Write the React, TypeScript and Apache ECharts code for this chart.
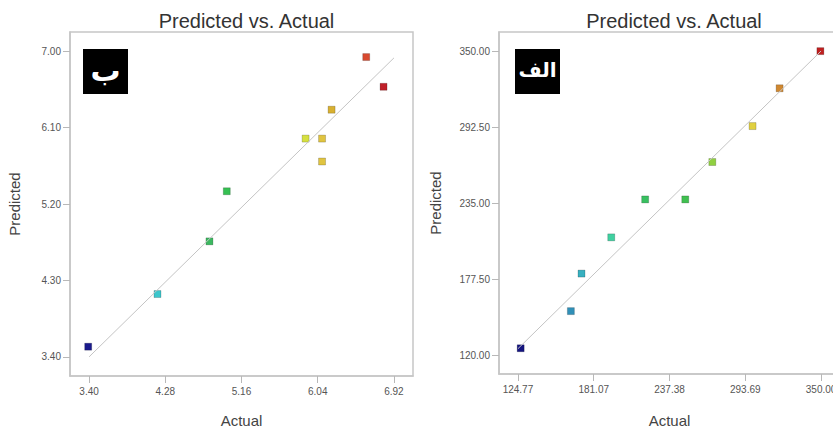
import React, { useEffect, useRef } from "react";
import * as echarts from "echarts";

// Panel "ب" (left)
const actualB = [3.39, 4.19, 4.79, 4.99, 5.9, 6.09, 6.09, 6.2, 6.6, 6.8];
const predictedB = [3.52, 4.14, 4.76, 5.35, 5.97, 5.97, 5.7, 6.31, 6.93, 6.58];
const xTicksB = [3.4, 4.28, 5.16, 6.04, 6.92];
const yTicksB = [3.4, 4.3, 5.2, 6.1, 7.0];
const lineB = [3.4, 6.92];

// Panel "الف" (right)
const actualA = [126.8, 164.1, 172.0, 194.1, 219.3, 249.1, 269.2, 299.1, 319.2, 349.5];
const predictedA = [125.1, 153.2, 181.6, 209.0, 237.7, 237.7, 266.0, 293.2, 321.8, 349.9];
const xTicksA = [124.77, 181.07, 237.38, 293.69, 350.0];
const yTicksA = [120.0, 177.5, 235.0, 292.5, 350.0];
const lineA = [124.77, 350.0];

const colorsB = ["#1a1a8c", "#3cc6cc", "#3cb860", "#36c052", "#d6e040", "#e0c440", "#e0c440", "#d8b030", "#d84a30", "#c0202a"];
const colorsA = ["#141480", "#3090b8", "#38b0c0", "#40d0a0", "#38c060", "#40c050", "#90d040", "#e0d040", "#d08830", "#c02020"];

const TITLE = "Predicted vs. Actual";
const FONT = "'Liberation Sans', Arial, sans-serif";
const BORDER = "#c6c6c6";

function range(ticks: number[]) {
  const step = ticks[1] - ticks[0];
  return { min: ticks[0] - step / 4, max: ticks[ticks.length - 1] + step / 4 };
}

export default function App() {
  const ref = useRef<HTMLDivElement>(null);
  useEffect(() => {
    if (!ref.current) return;
    const chart = echarts.init(ref.current, null, { renderer: "svg" });
    const grids = [
      { left: 70, top: 32, width: 343, height: 344 },
      { left: 499, top: 32, width: 341, height: 342 },
    ];
    const xT = [xTicksB, xTicksA];
    const yT = [yTicksB, yTicksA];
    const mkX = (i: number, gap: number) => {
      const r = range(xT[i]);
      return {
        type: "value",
        gridIndex: i,
        min: r.min,
        max: r.max,
        name: "Actual",
        nameLocation: "middle",
        nameGap: gap,
        nameTextStyle: { color: "#444", fontSize: 15, fontFamily: FONT },
        splitLine: { show: false },
        axisLine: { show: true, lineStyle: { color: BORDER, width: 1.5 } },
        axisTick: { show: true, length: 7, lineStyle: { color: "#b8b8b8" }, customValues: xT[i] },
        axisLabel: {
          color: "#555",
          fontSize: 10,
          fontFamily: FONT,
          margin: 10,
          customValues: xT[i],
          formatter: (v: number) => v.toFixed(2),
        },
      };
    };
    const mkY = (i: number, gap: number) => {
      const r = range(yT[i]);
      return {
        type: "value",
        gridIndex: i,
        min: r.min,
        max: r.max,
        name: "Predicted",
        nameLocation: "middle",
        nameGap: gap,
        nameTextStyle: { color: "#444", fontSize: 15, fontFamily: FONT },
        splitLine: { show: false },
        axisLine: { show: true, lineStyle: { color: BORDER, width: 1.5 } },
        axisTick: { show: true, length: 7, lineStyle: { color: "#b8b8b8" }, customValues: yT[i] },
        axisLabel: {
          color: "#555",
          fontSize: 10,
          fontFamily: FONT,
          margin: 9,
          customValues: yT[i],
          formatter: (v: number) => v.toFixed(2),
        },
      };
    };
    const pts = (xs: number[], ys: number[], cols: string[]) =>
      xs.map((x, k) => ({
        value: [x, ys[k]],
        itemStyle: { color: cols[k], opacity: 1, borderColor: "rgba(0,0,0,0.18)", borderWidth: 1 },
      }));
    const labelBox = (x: number, text: string, size: number) => ({
      type: "group",
      left: x,
      top: 49,
      children: [
        { type: "rect", shape: { x: 0, y: 0, width: 45, height: 45 }, style: { fill: "#000" } },
        {
          type: "text",
          x: 22.5,
          y: 21,
          style: {
            text,
            fill: "#fff",
            font: `bold ${size}px 'DejaVu Sans', sans-serif`,
            align: "center",
            verticalAlign: "middle",
          },
        },
      ],
    });
    chart.setOption({
      animation: false,
      backgroundColor: "#fff",
      title: [
        {
          text: TITLE,
          left: 241.5,
          top: 6,
          textAlign: "center",
          textStyle: { color: "#333", fontSize: 20, fontWeight: "normal", fontFamily: FONT },
        },
        {
          text: TITLE,
          left: 669,
          top: 6,
          textAlign: "center",
          textStyle: { color: "#333", fontSize: 20, fontWeight: "normal", fontFamily: FONT },
        },
      ],
      grid: grids.map((g) => ({
        ...g,
        show: true,
        borderColor: BORDER,
        borderWidth: 1.5,
        backgroundColor: "#fff",
        containLabel: false,
        outerBoundsMode: "none",
      })),
      xAxis: [mkX(0, 37), mkX(1, 39)],
      yAxis: [mkY(0, 48), mkY(1, 56)],
      graphic: [labelBox(83, "ب", 30), labelBox(515, "الف", 20)],
      series: [
        {
          type: "line",
          xAxisIndex: 0,
          yAxisIndex: 0,
          data: [[lineB[0], lineB[0]], [lineB[1], lineB[1]]],
          symbol: "none",
          lineStyle: { color: "#c4c4c4", width: 1 },
          silent: true,
        },
        {
          type: "scatter",
          xAxisIndex: 0,
          yAxisIndex: 0,
          symbol: "rect",
          symbolSize: 7,
          data: pts(actualB, predictedB, colorsB),
        },
        {
          type: "line",
          xAxisIndex: 1,
          yAxisIndex: 1,
          data: [[lineA[0], lineA[0]], [lineA[1], lineA[1]]],
          symbol: "none",
          lineStyle: { color: "#c4c4c4", width: 1 },
          silent: true,
        },
        {
          type: "scatter",
          xAxisIndex: 1,
          yAxisIndex: 1,
          symbol: "rect",
          symbolSize: 7,
          data: pts(actualA, predictedA, colorsA),
        },
      ],
    });
    return () => chart.dispose();
  }, []);
  return (
    <div
      ref={ref}
      style={{ position: "fixed", left: 0, top: 0, width: 833, height: 428, background: "#fff" }}
    />
  );
}
